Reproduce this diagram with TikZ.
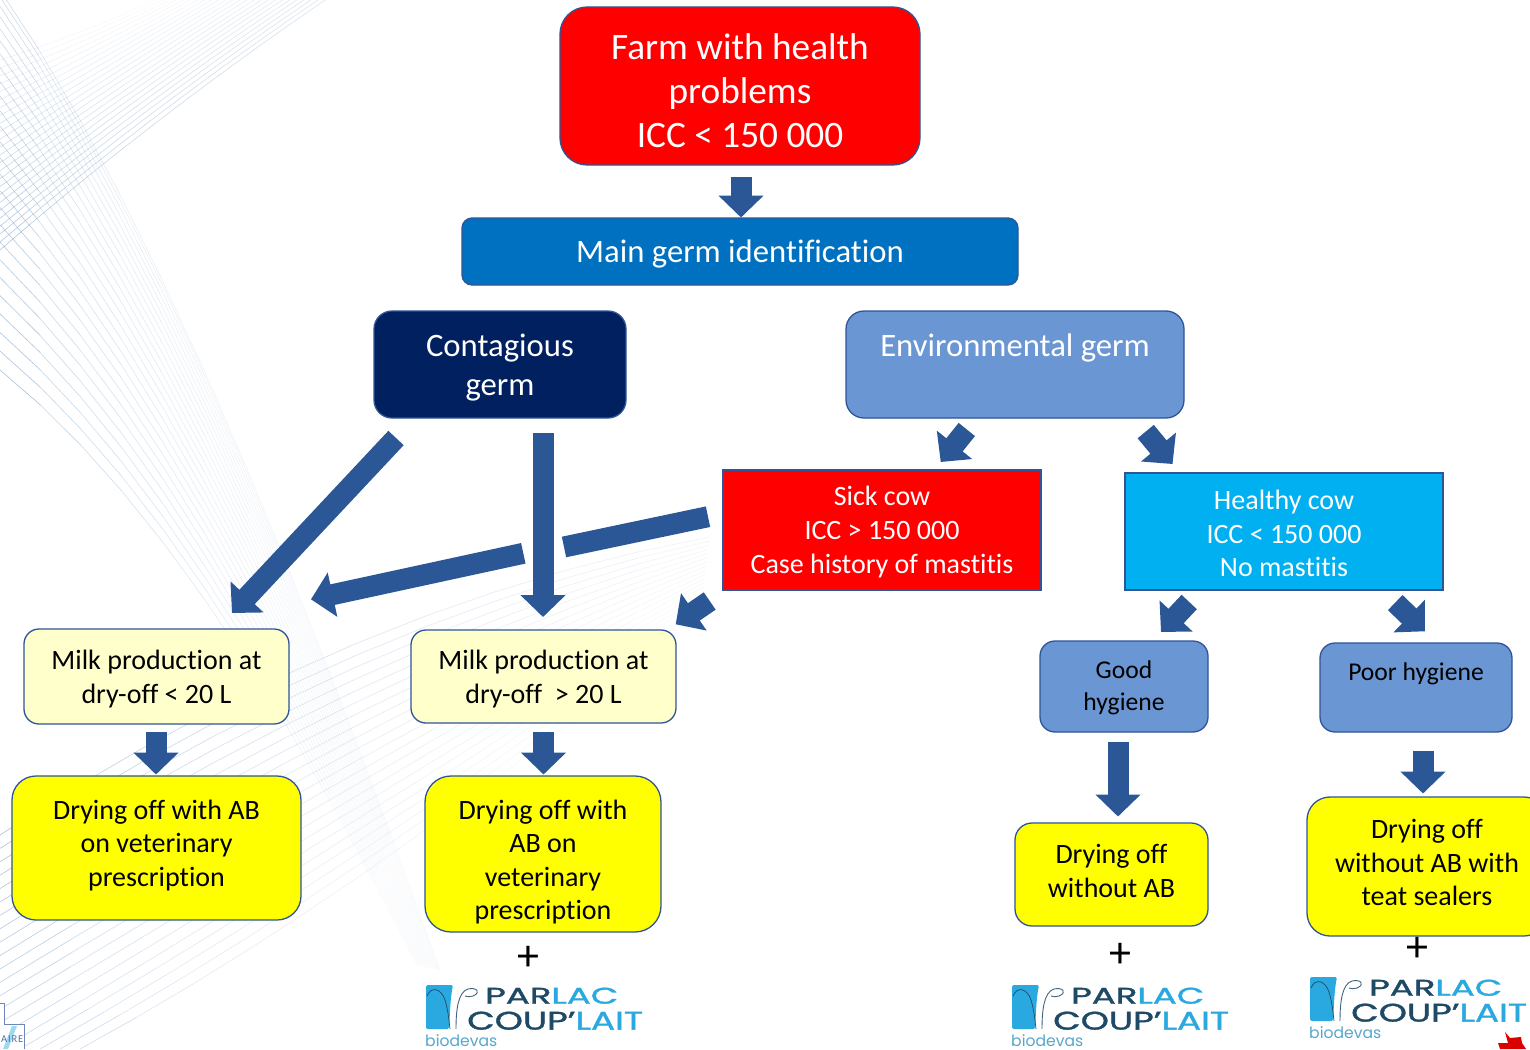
\documentclass[tikz,border=0pt]{standalone}
\usepackage{fontspec}
\setmainfont{Carlito}[Ligatures={NoCommon}]
\newfontfamily\logofont{Poppins}[FakeBold=1.2]
\newfontfamily\logolightfont{Poppins}
\usetikzlibrary{arrows.meta}
\definecolor{edge}{HTML}{2F5597}
\definecolor{arrowblue}{HTML}{2B5797}
\definecolor{midblue}{HTML}{0070C0}
\definecolor{navy}{HTML}{002060}
\definecolor{softblue}{HTML}{6A96D4}
\definecolor{skyblue}{HTML}{00B0F0}
\definecolor{paleyellow}{HTML}{FFFFCC}
\definecolor{pureyellow}{HTML}{FFFF00}
\definecolor{purered}{HTML}{FF0000}
\definecolor{fanline}{HTML}{86A8CC}
\definecolor{logodark}{HTML}{1F4A66}
\definecolor{logolight}{HTML}{29A9E0}
\definecolor{logotext}{HTML}{55A7CC}
\tikzset{
  basebox/.style={draw=edge,line width=1.3pt,inner sep=0pt,minimum width=#1},
  blk/.style={draw=arrowblue,line width=21pt,{-{Triangle[length=22pt,width=44pt]}}},
  blkplain/.style={draw=arrowblue,line width=21pt},
  fanstroke/.style={draw=fanline,line width=.6pt},
  plussign/.style={inner sep=0pt,font=\fontsize{44}{44}\selectfont},
}
\newcommand\bt[4]{\raisebox{#3pt}[0pt][0pt]{\fontsize{#1}{#2}\selectfont\begin{tabular}{@{}c@{}}#4\end{tabular}}}
% quadratic curve drawn in fading pieces: x0 y0 cx cy x1 y1 op0 op1
\newcommand\fanline[8]{%
  \foreach \k in {1,...,10}{%
    \pgfmathsetmacro\ta{(\k-1)/10}\pgfmathsetmacro\tb{\k/10}%
    \pgfmathsetmacro\xa{(1-\ta)*(1-\ta)*#1+2*\ta*(1-\ta)*#3+\ta*\ta*#5}%
    \pgfmathsetmacro\ya{(1-\ta)*(1-\ta)*#2+2*\ta*(1-\ta)*#4+\ta*\ta*#6}%
    \pgfmathsetmacro\xb{(1-\tb)*(1-\tb)*#1+2*\tb*(1-\tb)*#3+\tb*\tb*#5}%
    \pgfmathsetmacro\yb{(1-\tb)*(1-\tb)*#2+2*\tb*(1-\tb)*#4+\tb*\tb*#6}%
    \pgfmathsetmacro\op{#7+(#8-#7)*sqrt(\ta)}%
    \path[fanstroke,draw opacity=\op] (\xa,\ya) -- (\xb,\yb);
  }%
}
\newcommand\parlaclogo[2]{%
  \begin{scope}[shift={(#1,#2)}]
    \fill[logolight,rounded corners=1.5pt] (426,985) -- (453,985) .. controls (450,1000) and (450,1015) .. (449,1029) -- (426,1029) -- cycle;
    \draw[logodark,line width=.7pt] (427,996) .. controls (431,986) and (441,988) .. (445,1000) .. controls (448,1010) and (449,1020) .. (450,1029);
    \draw[logodark!85,line width=.9pt] (456,1029) .. controls (456,1010) and (458,992) .. (468,989) .. controls (476,987) and (482,992) .. (473,996) .. controls (470,997) and (467,997) .. (465,996);
    \node[anchor=south west,inner sep=0pt,text=logodark] at (485,1004) {\resizebox{133pt}{16pt}{\logofont PAR\textcolor{logolight}{LAC}}};
    \node[anchor=south west,inner sep=0pt,text=logodark] at (467,1030) {\resizebox{176pt}{18pt}{\logofont COUP’\textcolor{logolight}{LAIT}}};
    \node[anchor=south west,inner sep=0pt,text=logotext] at (425,1047) {\resizebox{72pt}{!}{\logolightfont biodevas}};
  \end{scope}%
}
\begin{document}
\begin{tikzpicture}[x=1pt,y=-1pt]
\useasboundingbox (0,0) rectangle (1530,1049);
\clip (0,0) rectangle (1530,1049);
\fill[white] (0,0) rectangle (1530,1049);
% background line fans
\foreach \i in {0,...,24}{
  \pgfmathsetmacro\f{\i/24}
  \pgfmathsetmacro\sy{250-190*\f}\pgfmathsetmacro\ex{325-170*\f}
  \pgfmathsetmacro\cx{150-70*\f}\pgfmathsetmacro\cy{120-85*\f}
  \pgfmathsetmacro\oa{.65*(1-.75*\f)}\pgfmathsetmacro\ob{.3*(1-.9*\f)}
  \fanline{0}{\sy}{\cx}{\cy}{\ex}{0}{\oa}{\ob}
}
\foreach \i in {0,...,25}{
  \pgfmathsetmacro\f{1-pow(1-\i/25,1.25)}
  \pgfmathsetmacro\sy{370-380*\f}\pgfmathsetmacro\ex{417+23*\f}\pgfmathsetmacro\ey{965+5*\f}
  \pgfmathsetmacro\cx{200-10*\f}\pgfmathsetmacro\cy{530-265*\f}
  \pgfmathsetmacro\oa{.7-.3*\f}\pgfmathsetmacro\ob{.01}
  \fanline{0}{\sy}{\cx}{\cy}{\ex}{\ey}{\oa}{\ob}
}
\foreach \i in {0,...,20}{
  \pgfmathsetmacro\f{\i/20}
  \pgfmathsetmacro\sx{\i>16?(\i-16)*20:0}\pgfmathsetmacro\sy{\i>16?1049:835+13.4*\i}
  \pgfmathsetmacro\ex{710-10*\f}\pgfmathsetmacro\ey{537+83*\f}
  \pgfmathsetmacro\cx{355}\pgfmathsetmacro\cy{602+298*\f}
  \pgfmathsetmacro\oa{.7-.3*\f}\pgfmathsetmacro\ob{.1*(1-\f)}
  \fanline{\sx}{\sy}{\cx}{\cy}{\ex}{\ey}{\oa}{\ob}
}
% boxes
\node[basebox=360pt,minimum height=158pt,rounded corners=27pt,fill=purered,text=white] (farm) at (740,86)
  {\bt{37.3}{44}{-15}{Farm with health\\problems\\ICC < 150 000}};
\node[basebox=556pt,minimum height=67pt,rounded corners=10pt,fill=midblue,text=white] (main) at (740,251.5)
  {\bt{32.7}{39}{-9.5}{Main germ identification}};
\node[basebox=252pt,minimum height=107pt,rounded corners=18pt,fill=navy,text=white] (cont) at (500,364.5)
  {\bt{32.7}{39}{-9.5}{Contagious\\germ}};
\node[basebox=338pt,minimum height=107pt,rounded corners=18pt,fill=softblue,text=white] (env) at (1015,364.5)
  {\bt{32.7}{39}{-9.5}{Environmental germ\\~}};
\node[basebox=318pt,line width=1.1pt,minimum height=120pt,fill=purered,text=white] (sick) at (882,530)
  {\bt{28}{34}{-9.3}{Sick cow\\ICC > 150 000\\Case history of mastitis}};
\node[basebox=318pt,line width=1.1pt,minimum height=117pt,fill=skyblue,text=white] (healthy) at (1284,531.5)
  {\bt{28}{33.5}{-11.3}{Healthy cow\\ICC < 150 000\\No mastitis}};
\node[basebox=265pt,minimum height=95pt,rounded corners=15pt,fill=paleyellow] (milka) at (156.5,676.5)
  {\bt{28}{33.5}{-9.3}{Milk production at\\dry-off < 20 L}};
\node[basebox=265pt,minimum height=93pt,rounded corners=15pt,fill=paleyellow] (milkb) at (543.5,676.5)
  {\bt{28}{33.5}{-9.3}{Milk production at\\dry-off \ > 20 L}};
\node[basebox=289pt,minimum height=144pt,rounded corners=24pt,fill=pureyellow] (drya) at (156.5,848)
  {\bt{28}{33.5}{-4.3}{Drying off with AB\\on veterinary\\prescription}};
\node[basebox=236pt,minimum height=156pt,rounded corners=26pt,fill=pureyellow] (dryb) at (543,854)
  {\bt{28}{33.5}{-15}{Drying off with\\AB on\\veterinary\\prescription}};
\node[basebox=168pt,minimum height=91pt,rounded corners=15pt,fill=softblue] (good) at (1124,686.5)
  {\bt{25.6}{32}{-7.5}{Good\\hygiene}};
\node[basebox=192pt,minimum height=89pt,rounded corners=15pt,fill=softblue] (poor) at (1416,687.5)
  {\bt{25.6}{32}{-8.5}{Poor hygiene\\~}};
\node[basebox=193pt,minimum height=103pt,rounded corners=17pt,fill=pureyellow] (dryc) at (1111.5,874.5)
  {\bt{28}{33.5}{-5.3}{Drying off\\without AB}};
\node[basebox=240pt,minimum height=139pt,rounded corners=23pt,fill=pureyellow] (dryd) at (1427,866.5)
  {\bt{28}{33.5}{-5.3}{Drying off\\without AB with\\teat sealers}};
% plus signs
\node[plussign] (pa) at (528,958) {+};
\node[plussign] (pb) at (1120,955) {+};
\node[plussign] (pc) at (1417,949) {+};
% block arrows
\coordinate (a1) at (741,177); \coordinate (a2) at (741,217.5);
\coordinate (b1) at (396,438); \coordinate (b2) at (232,613);
\coordinate (c1) at (543,433); \coordinate (c2) at (543,617);
\coordinate (d1) at (708,516.7); \coordinate (d2) at (564,547);
\coordinate (d3) at (523.3,553.3); \coordinate (d4) at (311,599.3);
\coordinate (e1) at (709.7,601); \coordinate (e2) at (675.7,624.3);
\coordinate (f1) at (966.8,429.5); \coordinate (f2) at (940.7,462);
\coordinate (g1) at (1145.7,431.6); \coordinate (g2) at (1172.5,464);
\coordinate (h1) at (1189.2,602); \coordinate (h2) at (1161,632);
\coordinate (i1) at (1395.2,602.6); \coordinate (i2) at (1425,631.3);
\coordinate (j1) at (156,732); \coordinate (j2) at (156,774.5);
\coordinate (k1) at (543.5,732); \coordinate (k2) at (543.5,774.5);
\coordinate (l1) at (1118,742); \coordinate (l2) at (1118,816.5);
\coordinate (m1) at (1423,751); \coordinate (m2) at (1423,793.5);
\draw[blk] (a1) -- (a2);
\draw[blk] (b1) -- (b2);
\draw[blk] (c1) -- (c2);
\draw[blkplain] (d1) -- (d2);
\draw[blk] (d3) -- (d4);
\draw[blk] (e1) -- (e2);
\draw[blk] (f1) -- (f2);
\draw[blk] (g1) -- (g2);
\draw[blk] (h1) -- (h2);
\draw[blk] (i1) -- (i2);
\draw[blk] (j1) -- (j2);
\draw[blk] (k1) -- (k2);
\draw[blk] (l1) -- (l2);
\draw[blk] (m1) -- (m2);
% logos
\parlaclogo{0}{0}
\parlaclogo{586}{0}
\parlaclogo{884}{-8}
% bottom-left logo fragment
\fill[white] (0,1003) -- (4,1003) -- (4,1024) -- (24,1024) -- (24,1049) -- (0,1049) -- cycle;
\fill[logolight!45] (3,1049) -- (12,1026) -- (17,1026) -- (8,1049) -- cycle;
\draw[edge!70,line width=.7pt] (0,1003) -- (4,1003) -- (4,1024) -- (24,1024) -- (24,1049);
\node[anchor=base east,inner sep=0pt,text=edge!85,font=\fontsize{10.5}{11}\selectfont] (aire) at (23.5,1042) {\addfontfeature{LetterSpace=8}AIRE};
% red fragment at the lower-right corner
\fill[purered!85!black] (1505,1032) -- (1510,1038) -- (1521,1037) -- (1522,1043) -- (1526,1049) -- (1500,1049) -- (1498,1043) -- (1508,1043) -- cycle;
\end{tikzpicture}
\end{document}
